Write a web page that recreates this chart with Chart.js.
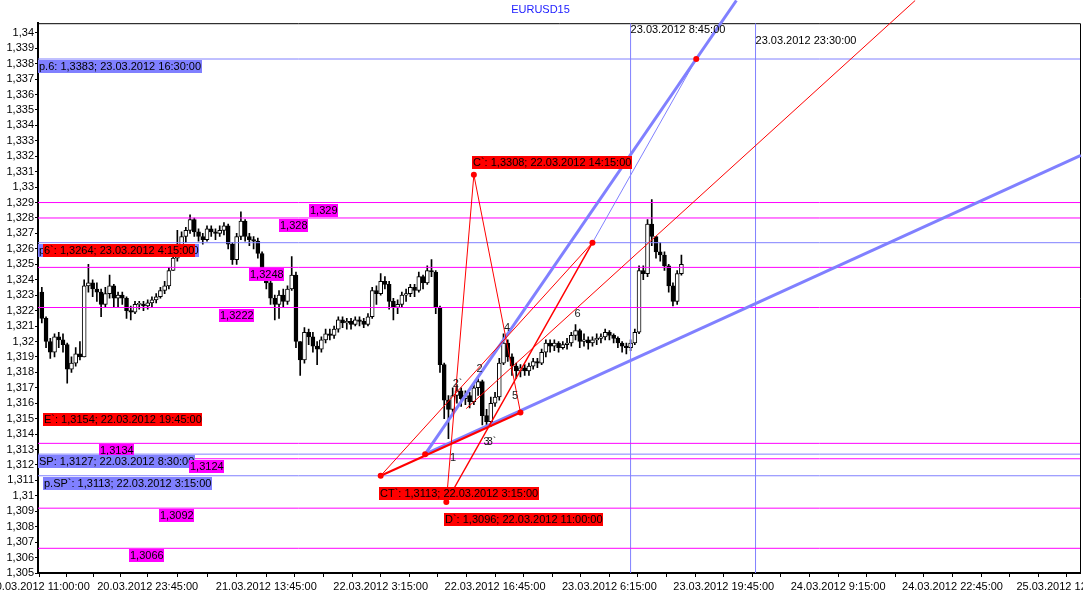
<!DOCTYPE html>
<html><head><meta charset="utf-8">
<script src="https://cdn.jsdelivr.net/npm/chart.js@4.4.1/dist/chart.umd.min.js"></script>
<style>html,body{margin:0;padding:0;background:#fff;overflow:hidden}</style>
</head><body>
<canvas id="c" width="1083" height="596"></canvas>
<script>
// ---------- DATA (hour 0 = 20.03.2012 11:00, 30-minute candles) ----------
const TITLE = 'EURUSD15';
const BAR_HOURS = 0.5;
const FIRST_OPEN = 1.3232;
const candleClose = [
 1.3215,1.3200,1.3193,1.3203,1.3201,1.3198,1.3182,1.3186,1.3192,1.3190,
 1.3236,1.3238,1.3234,1.3232,1.3224,1.3231,1.3236,1.3228,1.3230,1.3228,
 1.3220,1.3219,1.3224,1.3224,1.3223,1.3225,1.3227,1.3229,1.3233,1.3236,
 1.3246,1.3254,1.3262,1.3268,1.3272,1.3279,1.3271,1.3268,1.3266,1.3273,
 1.3271,1.3270,1.3272,1.3275,1.3263,1.3253,1.3268,1.3278,1.3268,1.3266,
 1.3265,1.3257,1.3245,1.3238,1.3228,1.3224,1.3230,1.3226,1.3234,1.3243,
 1.3200,1.3188,1.3206,1.3203,1.3197,1.3195,1.3201,1.3205,1.3204,1.3208,
 1.3214,1.3212,1.3213,1.3211,1.3214,1.3213,1.3211,1.3216,1.3233,1.3231,
 1.3239,1.3237,1.3226,1.3222,1.3224,1.3230,1.3231,1.3235,1.3233,1.3242,
 1.3238,1.3246,1.3245,1.3222,1.3185,1.3162,1.3156,1.3165,1.3168,1.3163,
 1.3165,1.3161,1.3170,1.3174,1.3152,1.3148,1.3160,1.3164,1.3186,1.3199,
 1.3190,1.3184,1.3181,1.3183,1.3181,1.3184,1.3187,1.3186,1.3193,1.3199,
 1.3197,1.3199,1.3196,1.3198,1.3199,1.3204,1.3207,1.3200,1.3201,1.3199,
 1.3201,1.3202,1.3203,1.3206,1.3204,1.3202,1.3199,1.3197,1.3196,1.3199,
 1.3206,1.3246,1.3244,1.3276,1.3268,1.3258,1.3256,1.3249,1.3236,1.3226,
 1.3244,1.3250];
const candleHigh = [
 1.3235,1.3216,1.3202,1.3205,1.3206,1.3205,1.3199,1.3190,1.3196,1.3200,
 1.3240,1.3250,1.3240,1.3238,1.3234,1.3235,1.3243,1.3237,1.3232,1.3232,
 1.3229,1.3223,1.3226,1.3226,1.3226,1.3227,1.3229,1.3231,1.3235,1.3239,
 1.3248,1.3256,1.3272,1.3271,1.3274,1.3282,1.3280,1.3273,1.3270,1.3275,
 1.3275,1.3273,1.3275,1.3277,1.3276,1.3264,1.3270,1.3284,1.3279,1.3270,
 1.3268,1.3267,1.3258,1.3246,1.3239,1.3230,1.3233,1.3234,1.3236,1.3255,
 1.3245,1.3200,1.3209,1.3208,1.3206,1.3200,1.3203,1.3208,1.3208,1.3210,
 1.3216,1.3216,1.3215,1.3215,1.3216,1.3216,1.3215,1.3218,1.3235,1.3236,
 1.3244,1.3242,1.3239,1.3228,1.3227,1.3232,1.3234,1.3237,1.3237,1.3245,
 1.3243,1.3249,1.3253,1.3246,1.3223,1.3186,1.3165,1.3170,1.3172,1.3170,
 1.3168,1.3167,1.3172,1.3176,1.3175,1.3156,1.3164,1.3167,1.3189,1.3205,
 1.3201,1.3192,1.3186,1.3185,1.3185,1.3186,1.3189,1.3189,1.3195,1.3201,
 1.3201,1.3201,1.3200,1.3200,1.3202,1.3206,1.3211,1.3208,1.3205,1.3203,
 1.3203,1.3205,1.3205,1.3208,1.3207,1.3205,1.3203,1.3200,1.3199,1.3201,
 1.3208,1.3249,1.3249,1.3279,1.3292,1.3268,1.3264,1.3258,1.3250,1.3238,
 1.3246,1.3256];
const candleLow = [
 1.3212,1.3196,1.3189,1.3190,1.3196,1.3193,1.3173,1.3180,1.3184,1.3188,
 1.3190,1.3232,1.3229,1.3226,1.3216,1.3222,1.3228,1.3222,1.3222,1.3224,
 1.3215,1.3214,1.3218,1.3221,1.3220,1.3221,1.3222,1.3225,1.3228,1.3231,
 1.3234,1.3246,1.3252,1.3260,1.3264,1.3270,1.3268,1.3265,1.3263,1.3265,
 1.3268,1.3266,1.3268,1.3269,1.3260,1.3250,1.3250,1.3266,1.3265,1.3262,
 1.3260,1.3254,1.3241,1.3234,1.3224,1.3214,1.3215,1.3222,1.3224,1.3233,
 1.3196,1.3178,1.3186,1.3198,1.3193,1.3185,1.3193,1.3199,1.3201,1.3202,
 1.3206,1.3209,1.3208,1.3208,1.3210,1.3210,1.3209,1.3210,1.3215,1.3224,
 1.3230,1.3234,1.3221,1.3214,1.3218,1.3222,1.3226,1.3229,1.3229,1.3232,
 1.3234,1.3237,1.3242,1.3218,1.3180,1.3150,1.3137,1.3152,1.3160,1.3158,
 1.3159,1.3157,1.3159,1.3165,1.3146,1.3144,1.3145,1.3158,1.3162,1.3185,
 1.3187,1.3178,1.3176,1.3177,1.3178,1.3178,1.3182,1.3183,1.3185,1.3190,
 1.3193,1.3194,1.3193,1.3195,1.3195,1.3197,1.3201,1.3196,1.3197,1.3195,
 1.3197,1.3198,1.3199,1.3201,1.3201,1.3199,1.3196,1.3193,1.3192,1.3194,
 1.3198,1.3205,1.3240,1.3242,1.3262,1.3254,1.3252,1.3246,1.3232,1.3223,
 1.3224,1.3243];

const xTickHours  = [0, 12.75, 26.75, 40.25, 53.75, 67.25, 80.75, 94.25, 107.75, 121.25];
const xTickLabels = ['20.03.2012 11:00:00','20.03.2012 23:45:00','21.03.2012 13:45:00',
  '22.03.2012 3:15:00','22.03.2012 16:45:00','23.03.2012 6:15:00','23.03.2012 19:45:00',
  '24.03.2012 9:15:00','24.03.2012 22:45:00','25.03.2012 12:15:00'];
const yTickFirst = 1.305, yTickLast = 1.34, yTickStep = 0.001;

const magentaLevels = [1.329, 1.328, 1.3248, 1.3222, 1.3134, 1.3124, 1.3092, 1.3066];
const blueLevels    = [1.3383, 1.3264, 1.3127, 1.3113];

const verticalHours       = [69.75, 84.5];
const verticalLabels      = ['23.03.2012 8:45:00', '23.03.2012 23:30:00'];
const verticalLabelPrices = [1.34015, 1.3395];

const pointNames  = ['CT`', 'SP', 'D`', 'C`', 'E`', '6`', 'p.6'];
const pointHours  = [40.25, 45.5, 48, 51.25, 56.75, 65.25, 77.5];
const pointPrices = [1.3113, 1.3127, 1.3096, 1.3308, 1.3154, 1.3264, 1.3383];

const trendFromHour  = [48, 51.25, 40.25, 48, 40.25, 50.35, 65.25, 45.5, 45.5];
const trendFromPrice = [1.3096, 1.3308, 1.3113, 1.3096, 1.3113, 1.31565, 1.3264, 1.3127, 1.3127];
const trendToHour    = [51.25, 56.75, 56.75, 65.25, 65.25, 103.34, 77.5, 82.24, 122.9];
const trendToPrice   = [1.3308, 1.3154, 1.3154, 1.3264, 1.3264, 1.34209, 1.3383, 1.34209, 1.33205];

const waveNames  = ['1', '2`', '2', '3', '3`', '4', '5', '6'];
const waveHours  = [48.80, 49.33, 51.92, 52.75, 53.34, 55.17, 56.11, 63.48];
const wavePrices = [1.31248, 1.31727, 1.31824, 1.31351, 1.31351, 1.32087, 1.31646, 1.32181];

const boxTexts = ['p.6: 1,3383; 23.03.2012 16:30:00','p.6`: 1,3264; 23.03.2012 4:15:00',
  '6`: 1,3264; 23.03.2012 4:15:00','E`: 1,3154; 22.03.2012 19:45:00','1,3134',
  'SP: 1,3127; 22.03.2012 8:30:00','p.SP`: 1,3113; 22.03.2012 3:15:00','1,3124',
  '1,329','1,328','1,3248','1,3222','1,3092','1,3066',
  'C`: 1,3308; 22.03.2012 14:15:00','CT`: 1,3113; 22.03.2012 3:15:00','D`: 1,3096; 22.03.2012 11:00:00'];
const boxHours  = [-0.2, -0.2, 0.39, 0.39, 6.99, -0.2, 0.39, 17.59, 31.76, 28.22, 24.68, 21.14, 14.07, 10.53, 50.98, 40.01, 47.68];
const boxPrices = [1.3383, 1.3264, 1.3264, 1.3154, 1.3134, 1.3127, 1.3113, 1.3124, 1.329, 1.328, 1.3248, 1.3222, 1.3092, 1.3066, 1.33205, 1.31066, 1.30898];

// ---------- STYLE ----------
const X_MIN = -0.2, X_MAX = 122.8, Y_MIN = 1.305, Y_MAX = 1.34062;
const BLUE = '#8080ff', RED = '#ff0000', MAGENTA = '#ff00ff';
const boxColors = [BLUE, BLUE, RED, RED, MAGENTA, BLUE, BLUE, MAGENTA, MAGENTA, MAGENTA, MAGENTA, MAGENTA, MAGENTA, MAGENTA, RED, RED, RED];
const trendColors = [RED, RED, RED, RED, RED, RED, BLUE, BLUE, BLUE];
const trendWidths = [1, 1, 2, 1.5, 1, 1, 1, 3, 3];
const FONT = '"Liberation Sans", Arial, sans-serif';

Chart.defaults.font.family = FONT;
Chart.defaults.font.size = 11;
Chart.defaults.color = '#000';

// ---------- BUILD DATASETS ----------
const candleOpen = candleClose.map((c, i) => i === 0 ? FIRST_OPEN : candleClose[i - 1]);
const candleX = candleClose.map((c, i) => i * BAR_HOURS + BAR_HOURS / 2);

const datasets = [];
datasets.push({
  type: 'bar', order: 30, grouped: false, barThickness: 1,
  backgroundColor: '#000', borderWidth: 0,
  data: candleX.map((x, i) => ({ x, y: [candleLow[i], candleHigh[i]] }))
});
datasets.push({
  type: 'bar', order: 29, grouped: false, barThickness: 4, minBarLength: 1,
  backgroundColor: candleClose.map((c, i) => c >= candleOpen[i] ? '#fff' : '#000'),
  borderColor: '#000', borderWidth: 1, borderSkipped: false,
  data: candleX.map((x, i) => ({ x, y: [candleOpen[i], candleClose[i]] }))
});
const lineBase = { type: 'line', pointRadius: 0, fill: false, tension: 0, borderWidth: 1 };
magentaLevels.forEach(v => datasets.push(Object.assign({}, lineBase, {
  order: 10, borderColor: MAGENTA, data: [{ x: X_MIN, y: v }, { x: X_MAX, y: v }] })));
blueLevels.forEach(v => datasets.push(Object.assign({}, lineBase, {
  order: 10, borderColor: BLUE, data: [{ x: X_MIN, y: v }, { x: X_MAX, y: v }] })));
verticalHours.forEach(h => datasets.push(Object.assign({}, lineBase, {
  order: 10, borderColor: BLUE, data: [{ x: h, y: Y_MIN }, { x: h, y: Y_MAX }] })));
trendFromHour.forEach((h, i) => datasets.push(Object.assign({}, lineBase, {
  order: 5, borderColor: trendColors[i], borderWidth: trendWidths[i],
  clip: { left: 0, top: false, right: 2, bottom: 0 },
  data: [{ x: h, y: trendFromPrice[i] }, { x: trendToHour[i], y: trendToPrice[i] }] })));
datasets.push({
  type: 'line', order: 1, showLine: false, pointRadius: 3, pointHoverRadius: 3,
  pointBackgroundColor: RED, pointBorderWidth: 0,
  data: pointHours.map((h, i) => ({ x: h, y: pointPrices[i] }))
});

// ---------- PLUGINS ----------
const framePlugin = {
  id: 'frame',
  beforeDatasetsDraw(chart) {
    const { ctx, chartArea: a } = chart;
    ctx.save();
    ctx.strokeStyle = '#000'; ctx.lineWidth = 1;
    ctx.beginPath();
    ctx.moveTo(a.left, a.top + 0.5); ctx.lineTo(a.right + 0.5, a.top + 0.5);
    ctx.lineTo(a.right + 0.5, a.bottom);
    ctx.stroke();
    ctx.restore();
  }
};
const textPlugin = {
  id: 'texts',
  afterDatasetsDraw(chart) {
    const { ctx } = chart;
    const xs = chart.scales.x, ys = chart.scales.y;
    ctx.save();
    ctx.font = '11px ' + FONT;
    ctx.textAlign = 'center'; ctx.textBaseline = 'middle'; ctx.fillStyle = '#1a1a1a';
    waveNames.forEach((t, i) => ctx.fillText(t, xs.getPixelForValue(waveHours[i]), ys.getPixelForValue(wavePrices[i])));
    ctx.textAlign = 'left'; ctx.fillStyle = '#000';
    verticalLabels.forEach((t, i) => ctx.fillText(t, xs.getPixelForValue(verticalHours[i]), ys.getPixelForValue(verticalLabelPrices[i])));
    boxTexts.forEach((t, i) => {
      const x = Math.round(xs.getPixelForValue(boxHours[i]));
      const y = Math.round(ys.getPixelForValue(boxPrices[i])) + 1;
      const w = Math.ceil(ctx.measureText(t).width) + 1;
      ctx.fillStyle = boxColors[i];
      ctx.fillRect(x, y, w, 13);
      ctx.fillStyle = '#000';
      ctx.fillText(t, x + 1, y + 7);
    });
    ctx.restore();
  }
};

// ---------- TICKS ----------
const yTickValues = [];
for (let v = yTickFirst; v <= yTickLast + 1e-9; v += yTickStep) yTickValues.push(Math.round(v * 1000) / 1000);
const xTickValues = [];
xTickHours.forEach((h, i) => {
  xTickValues.push(h);
  if (i < xTickHours.length - 1) {
    const d = (xTickHours[i + 1] - h) / 4;
    for (let k = 1; k < 4; k++) xTickValues.push(h + d * k);
  }
});

new Chart(document.getElementById('c'), {
  type: 'line',
  data: { datasets },
  options: {
    responsive: false, animation: false, devicePixelRatio: 1,
    layout: { padding: { left: 0, right: 2, top: 0, bottom: 0 } },
    plugins: {
      legend: { display: false }, tooltip: { enabled: false },
      title: { display: true, text: TITLE, color: '#2020ff',
        font: { size: 11, weight: 'normal', family: FONT }, padding: { top: 3, bottom: 7 } }
    },
    scales: {
      x: {
        type: 'linear', min: X_MIN, max: X_MAX, offset: false,
        afterBuildTicks: s => { s.ticks = xTickValues.map(v => ({ value: v })); },
        afterFit: s => { s.height = 23; s.paddingLeft = 0; s.paddingRight = 0; },
        ticks: {
          autoSkip: false, maxRotation: 0, minRotation: 0, padding: 3, color: '#000',
          callback: v => { const i = xTickHours.findIndex(h => Math.abs(h - v) < 1e-6); return i >= 0 ? xTickLabels[i] : ''; }
        },
        grid: { drawOnChartArea: false, tickLength: 4, color: '#000', offset: false },
        border: { color: '#000', width: 2 }
      },
      y: {
        type: 'linear', min: Y_MIN, max: Y_MAX, beginAtZero: false,
        afterBuildTicks: s => { s.ticks = yTickValues.map(v => ({ value: v })); },
        afterFit: s => { s.width = 38; s.paddingTop = 0; s.paddingBottom = 0; },
        ticks: {
          autoSkip: false, padding: 1, color: '#000',
          callback: v => String(parseFloat(Number(v).toFixed(3))).replace('.', ',')
        },
        grid: { drawOnChartArea: false, tickLength: 3, color: '#000' },
        border: { color: '#000', width: 2 }
      }
    }
  },
  plugins: [framePlugin, textPlugin]
});
</script>
</body></html>
